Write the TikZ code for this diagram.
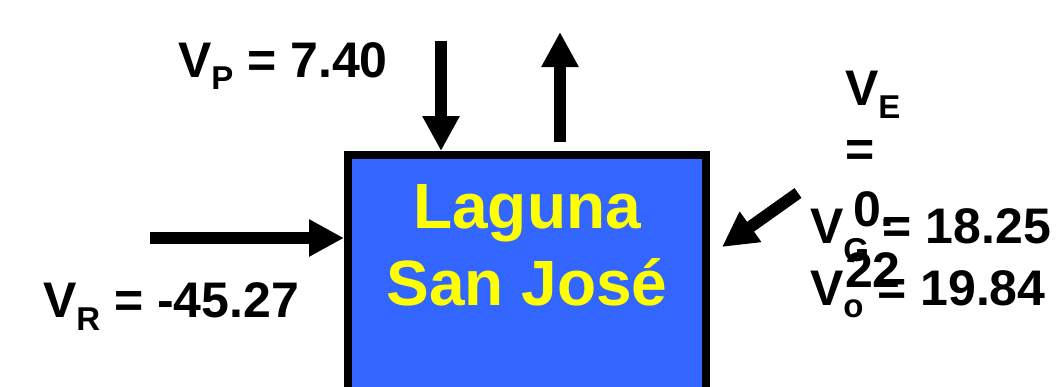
\documentclass[tikz,border=0pt]{standalone}
\usepackage{fontspec}
\setmainfont{Liberation Sans}
\usetikzlibrary{arrows.meta}
\definecolor{lakeblue}{RGB}{51,102,255}
\definecolor{lakeyellow}{RGB}{255,255,0}
\newcommand{\sbs}[2]{\raisebox{-#1pt}{\fontsize{33}{33}\selectfont #2}}
\begin{document}
\begin{tikzpicture}[x=1pt,y=-1pt,
  lbl/.style={font=\fontsize{50}{50}\selectfont\bfseries, inner sep=0pt, outer sep=0pt, anchor=base west},
  flow/.style={line width=12pt, -{Triangle[length=35pt,width=35pt]}},
  lakebox/.style={draw=black, line width=8pt, fill=lakeblue, minimum width=358pt, minimum height=260pt, inner sep=0pt, anchor=north west},
  laketext/.style={font=\fontsize{64}{64}\selectfont\bfseries, text=lakeyellow, inner sep=0pt, anchor=base}]
\useasboundingbox (0,0) rectangle (1061,386);
\clip (0,0) rectangle (1061,386);
\fill[white] (0,0) rectangle (1061,386);

\node[lakebox] (box) at (344,151) {};
\node[laketext] (lag1) at (527,228) {Laguna};
\node[laketext] (lag2) at (527,305) {San José};

% labels
\node[lbl] (vp) at (178,77) {V\sbs{12}{P} = 7.40};
\node[lbl] (vr) at (43,317) {V\sbs{13}{R} = -45.27};
\node[lbl] (ve1) at (845,105) {V\sbs{13}{E}};
\node[lbl] (ve2) at (845,166) {=};
\node[lbl] (ve3) at (853,226) {0.};
\node[lbl] (ve4) at (845,287) {22};
\node[lbl] (vg) at (810,243) {V\sbs{18}{G} = 18.25};
\node[lbl] (vo) at (810,305) {V\sbs{12}{o} = 19.84};

% arrows
\coordinate (pstart) at (441,41);
\coordinate (estart) at (560,142);
\coordinate (eend) at (560,32);
\coordinate (rstart) at (150,238);
\coordinate (gstart) at (798,193);
\coordinate (gend) at (722,247);
\draw[flow] (pstart) -- (pstart |- box.north);
\draw[flow] (estart) -- (eend);
\draw[flow] (rstart) -- (rstart -| box.west);
\draw[flow] (gstart) -- (gend);
\end{tikzpicture}
\end{document}
